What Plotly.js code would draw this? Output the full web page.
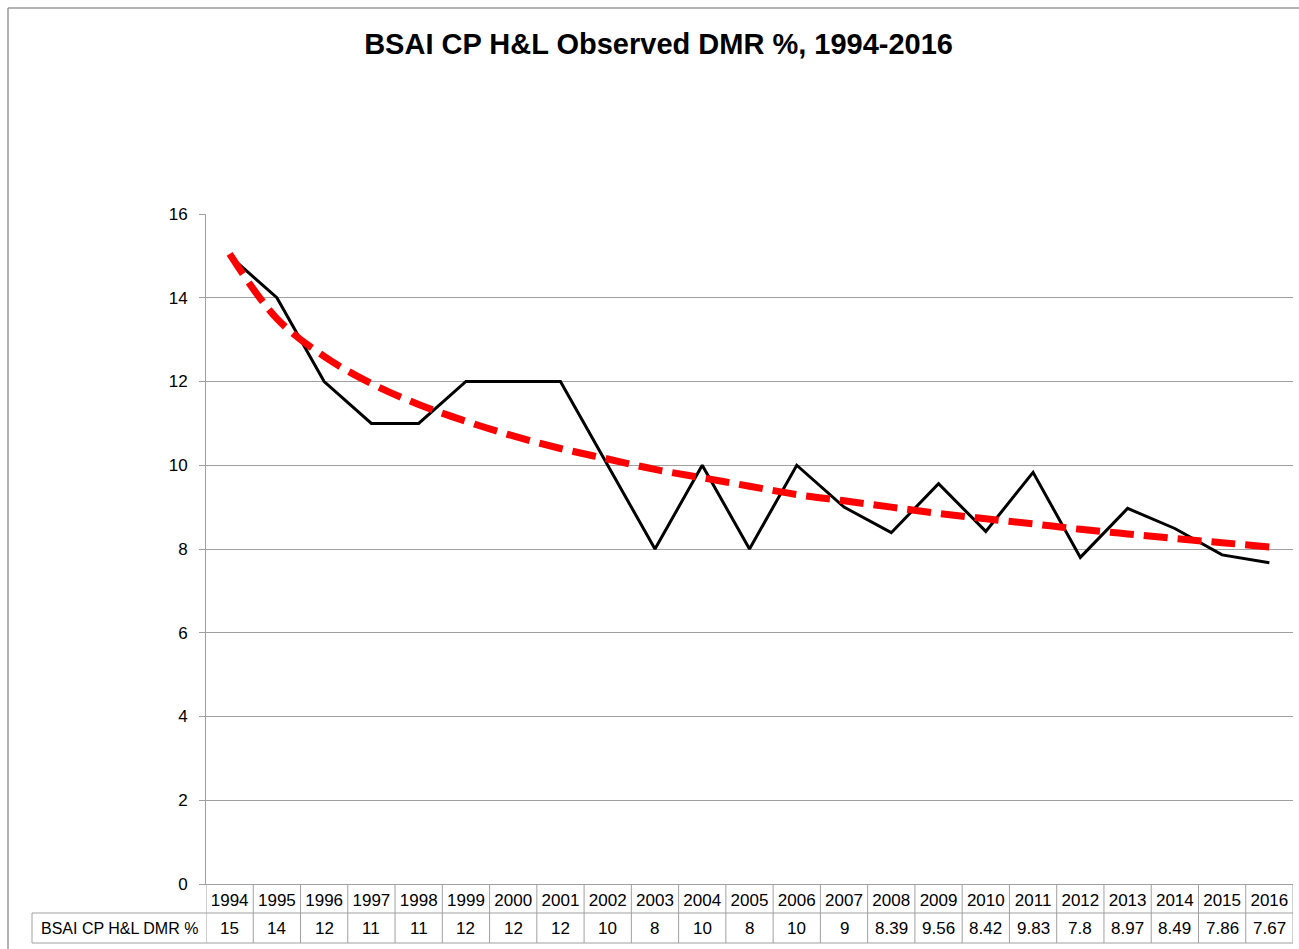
<!DOCTYPE html>
<html>
<head>
<meta charset="utf-8">
<script src="https://cdn.plot.ly/plotly-3.0.1.min.js"></script>
<style>
html,body{margin:0;padding:0;background:#fff;}
#chart{width:1299px;height:949px;}
</style>
</head>
<body>
<div id="chart"></div>
<script>
const years = ['1994','1995','1996','1997','1998','1999','2000','2001','2002','2003','2004','2005','2006','2007','2008','2009','2010','2011','2012','2013','2014','2015','2016'];
const dmr = [15,14,12,11,11,12,12,12,10,8,10,8,10,9,8.39,9.56,8.42,9.83,7.8,8.97,8.49,7.86,7.67];
const dmrLabels = ['15','14','12','11','11','12','12','12','10','8','10','8','10','9','8.39','9.56','8.42','9.83','7.8','8.97','8.49','7.86','7.67'];
// trendline
const trend = [15.05,13.5,12.6,11.95,11.45,11.05,10.7,10.4,10.15,9.9,9.7,9.5,9.3,9.15,9.0,8.85,8.72,8.6,8.47,8.36,8.25,8.15,8.05];
const seriesName = 'BSAI CP H&L DMR %';
const titleText = 'BSAI CP H&L Observed DMR %, 1994-2016';

const W = 1299, H = 949;
const L = 206, R = 1293, T = 214, B = 884;
const pw = R - L, ph = B - T;
const px = v => (v - L) / pw;
const py = v => (B - v) / ph;

const gridCol = '#a0a0a0';
const fam = 'Liberation Sans, Arial, sans-serif';
const shapes = [];
// table grid
const rowMid = 913, rowBot = 943, labLeft = 32;
for (let i = 0; i <= years.length; i++) {
  shapes.push({type:'line', xref:'x', yref:'paper', x0:i-0.5, x1:i-0.5, y0:py(B), y1:py(rowBot), line:{color:gridCol, width:1}});
}
shapes.push({type:'line', xref:'paper', yref:'paper', x0:px(labLeft), x1:1, y0:py(rowMid), y1:py(rowMid), line:{color:gridCol, width:1}});
shapes.push({type:'line', xref:'paper', yref:'paper', x0:px(labLeft), x1:1, y0:py(rowBot), y1:py(rowBot), line:{color:gridCol, width:1}});
shapes.push({type:'line', xref:'paper', yref:'paper', x0:px(labLeft), x1:px(labLeft), y0:py(rowMid), y1:py(rowBot), line:{color:gridCol, width:1}});
// outer chart border (left and top)
shapes.push({type:'line', xref:'paper', yref:'paper', x0:px(8), x1:px(8), y0:py(8), y1:py(H+5), line:{color:'#9a9a9a', width:1.5}});
shapes.push({type:'line', xref:'paper', yref:'paper', x0:px(8), x1:px(W+5), y0:py(8), y1:py(8), line:{color:'#9a9a9a', width:1.5}});

const annotations = [];
dmrLabels.forEach((t, i) => {
  annotations.push({x: i, xref:'x', y: py((rowMid+rowBot)/2), yref:'paper', text:t, showarrow:false,
    xanchor:'center', yanchor:'middle', font:{family:fam, size:17, color:'#000'}});
});
annotations.push({x: px(labLeft+7), xref:'paper', y: py((rowMid+rowBot)/2), yref:'paper', text:seriesName.replace(/&/g,'&amp;'), showarrow:false,
  xanchor:'left', yanchor:'middle', font:{family:fam, size:16, color:'#000'}});

const data = [
  {x: years, y: dmr, type:'scatter', mode:'lines', name: seriesName, line:{color:'#000', width:3}},
  {x: years, y: trend, type:'scatter', mode:'lines', name:'Trend', line:{color:'#ff0000', width:7, dash:'24px,10px', shape:'spline'}}
];

const layout = {
  width: W, height: H,
  margin: {l: L, r: W - R, t: T, b: H - B, pad: 0},
  paper_bgcolor:'#fff', plot_bgcolor:'#fff',
  showlegend:false,
  title: {text: '<b>' + titleText.replace(/&/g,'&amp;') + '</b>', x: 0.507, xanchor:'center', y: 1 - 44/H, yanchor:'middle',
    font:{family:fam, size:29, color:'#000'}},
  xaxis: {type:'category', range:[-0.5, years.length - 0.5], showgrid:false, zeroline:false,
    showline:true, linecolor:gridCol, linewidth:1, ticks:'', ticklabelstandoff: 1,
    tickfont:{family:fam, size:17, color:'#000'}, fixedrange:true},
  yaxis: {range:[0,16], dtick:2, tick0:0, showgrid:true, gridcolor:gridCol, gridwidth:1, zeroline:false,
    showline:true, linecolor:gridCol, linewidth:1, ticks:'outside', ticklen:6, tickcolor:gridCol,
    ticklabelstandoff: 8,
    tickfont:{family:fam, size:17, color:'#000'}, fixedrange:true},
  shapes: shapes,
  annotations: annotations
};

Plotly.newPlot('chart', data, layout, {displayModeBar:false, staticPlot:true});
</script>
</body>
</html>
